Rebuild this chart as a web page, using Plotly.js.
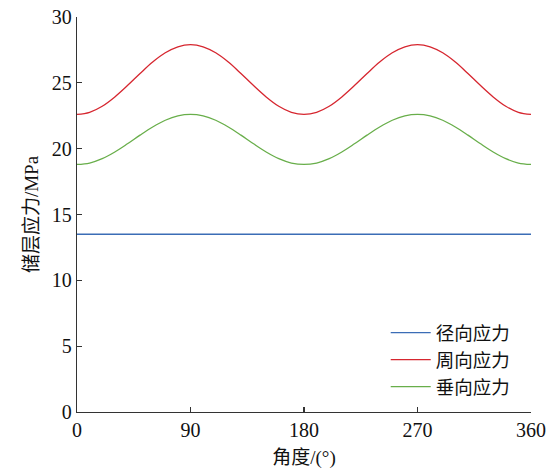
<!DOCTYPE html>
<html>
<head>
<meta charset="utf-8">
<script src="https://cdn.plot.ly/plotly-3.0.1.min.js"></script>
<style>html,body{margin:0;padding:0;background:#fff;}#chart{width:557px;height:469px;}</style>
</head>
<body>
<div id="chart"></div>
<script>
const angles = [0,10,20,30,40,50,60,70,80,90,100,110,120,130,140,150,160,170,180,190,200,210,220,230,240,250,260,270,280,290,300,310,320,330,340,350,360];
const radialStress = [13.5,13.5,13.5,13.5,13.5,13.5,13.5,13.5,13.5,13.5,13.5,13.5,13.5,13.5,13.5,13.5,13.5,13.5,13.5,13.5,13.5,13.5,13.5,13.5,13.5,13.5,13.5,13.5,13.5,13.5,13.5,13.5,13.5,13.5,13.5,13.5,13.5];
const hoopStress = [22.60,22.76,23.22,23.93,24.79,25.71,26.58,27.28,27.74,27.90,27.74,27.28,26.58,25.71,24.79,23.93,23.22,22.76,22.60,22.76,23.22,23.93,24.79,25.71,26.58,27.28,27.74,27.90,27.74,27.28,26.58,25.71,24.79,23.93,23.22,22.76,22.60];
const verticalStress = [18.80,18.91,19.24,19.75,20.37,21.03,21.65,22.16,22.49,22.60,22.49,22.16,21.65,21.03,20.37,19.75,19.24,18.91,18.80,18.91,19.24,19.75,20.37,21.03,21.65,22.16,22.49,22.60,22.49,22.16,21.65,21.03,20.37,19.75,19.24,18.91,18.80];
const seriesNames = ['径向应力','周向应力','垂向应力'];
const xTicks = [0,90,180,270,360];
const yTicks = [0,5,10,15,20,25,30];

const fontFam = '"Liberation Serif", "Times New Roman", "Noto Sans CJK SC", serif';
const colors = ['#3b6db6','#d6262f','#68ae4a'];
const ys = [radialStress, hoopStress, verticalStress];
const traces = ys.map((y,i)=>({
  x: angles, y: y, name: seriesNames[i], type:'scatter', mode:'lines',
  line:{color:colors[i], width:1.3, shape:'spline'}
}));

const axisCommon = {
  showline:true, linecolor:'#333', linewidth:1.3, ticks:'inside', ticklen:5, tickwidth:1.3, tickcolor:'#333',
  showgrid:false, zeroline:false, tickfont:{family:fontFam, size:20, color:'#111'}, mirror:false
};
const layout = {
  width:557, height:469, paper_bgcolor:'#fff', plot_bgcolor:'#fff',
  margin:{l:77, r:26, t:17, b:57},
  showlegend:true,
  legend:{x:0.68, y:0.248, xanchor:'left', yanchor:'top', bgcolor:'rgba(0,0,0,0)',
    font:{family:'"Noto Sans CJK SC", sans-serif', size:18.5, color:'#111'}, tracegroupgap:0, itemwidth:40},
  xaxis: Object.assign({}, axisCommon, {range:[0,360], tickvals:xTicks, ticktext:xTicks.map(String),
    title:{text:'角度/(°)', font:{family:fontFam, size:19, color:'#111'}, standoff:10}}),
  yaxis: Object.assign({}, axisCommon, {range:[0,30], tickvals:yTicks, ticktext:yTicks.map(String),
    title:{text:'储层应力/MPa', font:{family:fontFam, size:19, color:'#111'}, standoff:8}})
};
Plotly.newPlot('chart', traces, layout, {displayModeBar:false, staticPlot:true});
</script>
</body>
</html>
